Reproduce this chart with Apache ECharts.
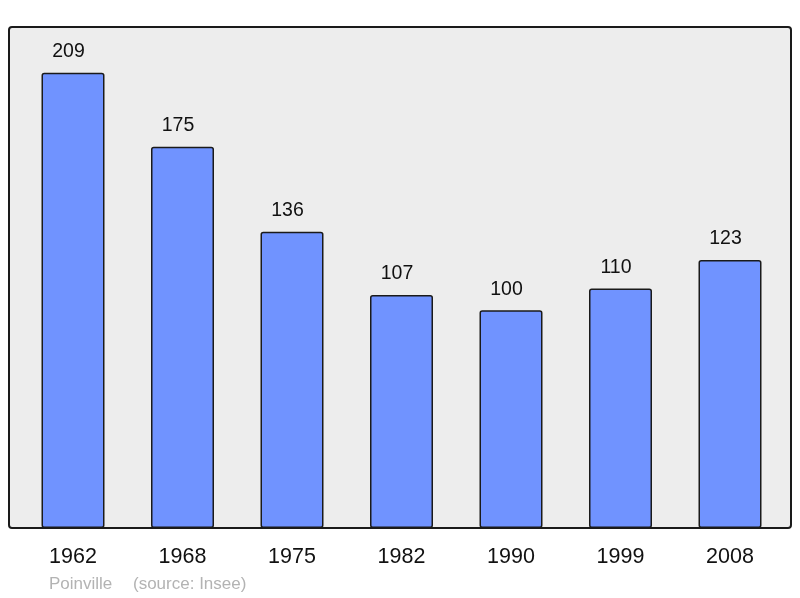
<!DOCTYPE html>
<html><head><meta charset="utf-8">
<script src="https://cdn.jsdelivr.net/npm/echarts@6/dist/echarts.min.js"></script>
<style>html,body{margin:0;padding:0;background:#fff}#c{width:800px;height:598px}</style>
</head><body><div id="c"></div>
<script>
const categories = ['1962','1968','1975','1982','1990','1999','2008'];
const population = [209,175,136,107,100,110,123];
const chart = echarts.init(document.getElementById('c'), null, {renderer:'canvas'});
chart.setOption({
  animation:false,
  backgroundColor:'#ffffff',
  graphic:[
    {type:'rect', z:-10, shape:{x:9,y:27,width:782,height:501,r:3}, style:{fill:'#ededed',stroke:'#1a1a1a',lineWidth:2}},
    {type:'text', left:49, top:575.5, style:{text:'Poinville', fill:'#b3b3b3', font:'17px "Liberation Sans", Arial, sans-serif'}},
    {type:'text', left:133, top:575.5, style:{text:'(source: Insee)', fill:'#b3b3b3', font:'17px "Liberation Sans", Arial, sans-serif'}}
  ],
  grid:{left:18.25, right:15.25, top:27, bottom:70, containLabel:false},
  xAxis:{type:'category', data:categories, axisLine:{show:false}, axisTick:{show:false},
    axisLabel:{fontSize:21.5, color:'#111', margin:18.5, fontFamily:'"Liberation Sans", Arial, sans-serif'}},
  yAxis:{type:'value', min:0, max:230, show:false, splitLine:{show:false}},
  series:[{type:'bar', data:population, barWidth:63,
    itemStyle:{color:'#7093ff', borderColor:'#1a1a1a', borderWidth:1.5, borderRadius:2},
    label:{show:true, position:'top', distance:11, offset:[-4.5,0], fontSize:19.5, color:'#111', fontFamily:'"Liberation Sans", Arial, sans-serif'}}]
});
</script></body></html>
